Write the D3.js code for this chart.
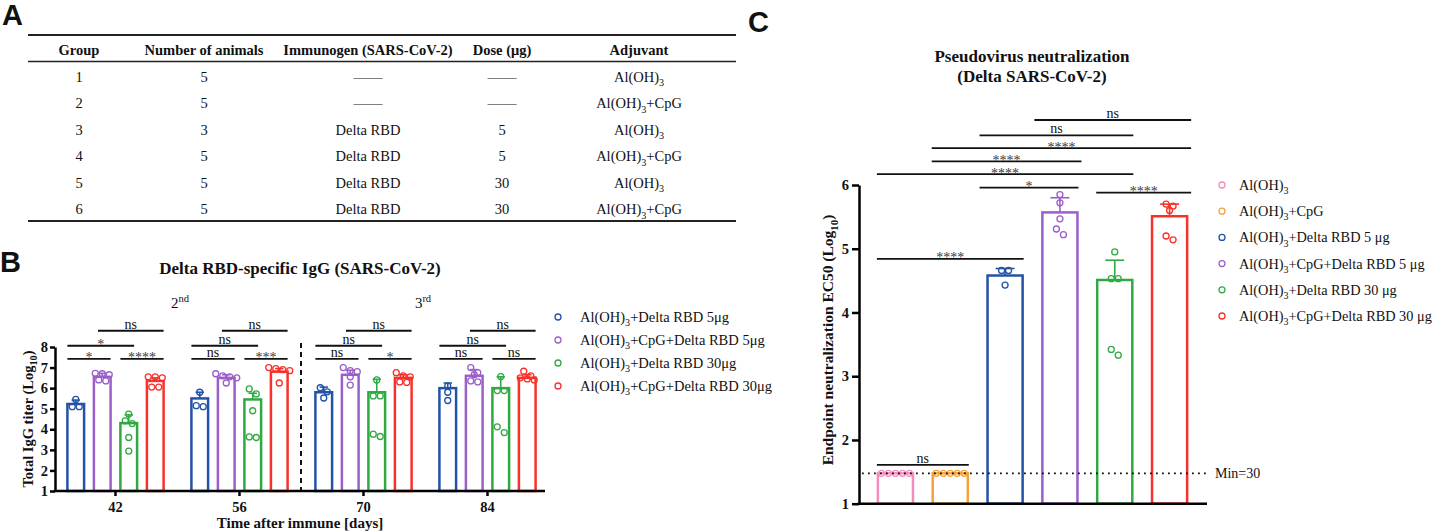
<!DOCTYPE html>
<html><head><meta charset="utf-8">
<script src="https://cdn.jsdelivr.net/npm/d3@7"></script>
<style>
body{margin:0;background:#fff}
svg{display:block}
text{font-family:"Liberation Serif","Times New Roman",serif;fill:#111}
</style>
</head><body>
<svg id="chart" width="1437" height="531"></svg>
<script>
// ---------------- DATA ----------------
// Panel A table
const tableHeaders = ["Group", "Number of animals", "Immunogen (SARS-CoV-2)", "Dose (μg)", "Adjuvant"];
const tableGroup = ["1", "2", "3", "4", "5", "6"];
const tableAnimals = ["5", "5", "3", "5", "5", "5"];
const tableImmunogen = ["——", "——", "Delta RBD", "Delta RBD", "Delta RBD", "Delta RBD"];
const tableDose = ["——", "——", "5", "5", "30", "30"];
const tableAdjuvant = ["Al(OH)_{3}", "Al(OH)_{3}+CpG", "Al(OH)_{3}", "Al(OH)_{3}+CpG", "Al(OH)_{3}", "Al(OH)_{3}+CpG"];

// Panel B
const bDays = ["42", "56", "70", "84"];
const bSeries = ["Al(OH)_{3}+Delta RBD 5μg", "Al(OH)_{3}+CpG+Delta RBD 5μg", "Al(OH)_{3}+Delta RBD 30μg", "Al(OH)_{3}+CpG+Delta RBD 30μg"];
// means per day (rows) per series (cols), log10 titer
const bMeans = [
  [5.23, 6.55, 4.30, 6.35],
  [5.50, 6.50, 5.45, 6.80],
  [5.80, 6.65, 5.80, 6.50],
  [6.00, 6.60, 6.00, 6.50]
];
const bErrors = [
  [0.19, 0.17, 0.40, 0.15],
  [0.30, 0.15, 0.30, 0.15],
  [0.25, 0.22, 0.63, 0.15],
  [0.25, 0.30, 0.55, 0.15]
];
const bPoints = [
  [[5.45, 5.10, 5.10], [6.72, 6.70, 6.65, 6.40, 6.35], [4.74, 4.41, 4.28, 3.60, 2.94], [6.55, 6.55, 6.50, 6.05, 6.05]],
  [[5.80, 5.15, 5.10], [6.70, 6.60, 6.55, 6.50, 6.25], [5.96, 5.72, 4.90, 3.63, 3.60], [7.00, 6.95, 6.90, 6.85, 6.25]],
  [[6.02, 5.82, 5.52], [7.00, 6.85, 6.80, 6.55, 6.15], [6.40, 5.62, 5.62, 3.76, 3.65], [6.75, 6.60, 6.55, 6.30, 6.28]],
  [[6.10, 5.80, 5.40], [7.00, 6.75, 6.65, 6.35, 6.30], [6.56, 5.88, 5.88, 4.12, 3.84], [6.82, 6.60, 6.50, 6.45, 6.40]]
];
// significance labels per day, comparisons: [1v2, 3v4, 1v3, 2v4]
const bSig = [
  ["*", "****", "*", "ns"],
  ["ns", "***", "ns", "ns"],
  ["ns", "*", "ns", "ns"],
  ["ns", "ns", "ns", "ns"]
];
const bDoseLabels = [["2", "nd"], ["3", "rd"]];
const bYTicks = [1, 2, 3, 4, 5, 6, 7, 8];

// Panel C
const cGroups = ["Al(OH)_{3}", "Al(OH)_{3}+CpG", "Al(OH)_{3}+Delta RBD 5 μg", "Al(OH)_{3}+CpG+Delta RBD 5 μg", "Al(OH)_{3}+Delta RBD 30 μg", "Al(OH)_{3}+CpG+Delta RBD 30 μg"];
const cMeans = [1.477, 1.477, 4.58, 5.57, 4.51, 5.51];
const cErrors = [0, 0, 0.11, 0.23, 0.31, 0.19];
const cPoints = [
  [1.477, 1.477, 1.477, 1.477, 1.477],
  [1.477, 1.477, 1.477, 1.477, 1.477],
  [4.66, 4.66, 4.43],
  [5.85, 5.72, 5.47, 5.31, 5.22],
  [4.95, 4.53, 4.53, 3.42, 3.33],
  [5.70, 5.67, 5.60, 5.20, 5.14]
];
// comparisons [i, j, label]
const cSig = [
  [0, 1, "ns"], [0, 2, "****"], [2, 3, "*"], [4, 5, "****"], [0, 4, "****"],
  [1, 3, "****"], [1, 5, "****"], [2, 4, "ns"], [3, 5, "ns"]
];
const cMin = 1.477; // log10(30)
const cYTicks = [1, 2, 3, 4, 5, 6];

// ---------------- STYLE ----------------
const bColors = ["#2353a8", "#9b5fc9", "#2faa43", "#f7312b"];
const cColors = ["#f38dbd", "#f5a23b", "#2353a8", "#9b5fc9", "#2faa43", "#f7312b"];

const svg = d3.select("#chart");

function rich(textSel, str, size) {
  const parts = str.split(/(_\{[^}]*\}|\^\{[^}]*\})/).filter(s => s.length);
  let shift = 0;
  parts.forEach(p => {
    let t = p, target = 0, fs = null;
    if (p.startsWith("_{")) { t = p.slice(2, -1); target = 0.3 * size; fs = size * 0.7; }
    else if (p.startsWith("^{")) { t = p.slice(2, -1); target = -0.4 * size; fs = size * 0.7; }
    const ts = textSel.append("tspan").attr("dy", target - shift).text(t);
    if (fs) ts.attr("font-size", fs);
    shift = target;
  });
}

function panelLetter(x, y, s) {
  svg.append("text").attr("x", x).attr("y", y).text(s)
    .style("font-family", '"Liberation Sans",Arial,sans-serif')
    .attr("font-weight", "bold").attr("font-size", 29).attr("fill", "#000");
}

function bracket(g, x1, x2, y, label) {
  g.append("line").attr("x1", x1).attr("x2", x2).attr("y1", y).attr("y2", y)
    .attr("stroke", "#111").attr("stroke-width", 1.8);
  g.append("text").attr("x", (x1 + x2) / 2).attr("y", label === "ns" ? y - 2 : y + 3.5)
    .attr("text-anchor", "middle").attr("font-size", 14)
    .style("fill", label === "ns" ? "#111" : "#3a3a3a").text(label);
}

// swarm offsets: cluster close values and spread horizontally
function swarm(vals, yScale, r, thr) {
  const idx = vals.map((v, i) => i).sort((a, b) => vals[b] - vals[a]);
  const off = new Array(vals.length).fill(0);
  let i = 0;
  while (i < idx.length) {
    const start = yScale(vals[idx[i]]);
    let j = i + 1;
    while (j < idx.length && Math.abs(yScale(vals[idx[j]]) - start) < thr) j++;
    const k = j - i;
    for (let m = 0; m < k; m++) off[idx[i + m]] = (m - (k - 1) / 2) * (2 * r + 1);
    i = j;
  }
  return off;
}

function styleAxisText(ax, size) {
  ax.selectAll(".tick text").attr("font-family", '"Liberation Serif",serif')
    .attr("font-weight", "bold").attr("font-size", size).style("fill", "#111");
}

// ---------------- PANEL A ----------------
panelLetter(2, 25, "A");
const colX = [79, 204, 368, 502, 639];
const gA = svg.append("g");
gA.append("line").attr("x1", 28).attr("x2", 736).attr("y1", 35).attr("y2", 35).attr("stroke", "#222").attr("stroke-width", 2);
gA.append("line").attr("x1", 28).attr("x2", 736).attr("y1", 61.5).attr("y2", 61.5).attr("stroke", "#222").attr("stroke-width", 1.6);
gA.append("line").attr("x1", 28).attr("x2", 736).attr("y1", 221).attr("y2", 221).attr("stroke", "#222").attr("stroke-width", 2);
tableHeaders.forEach((h, c) => {
  gA.append("text").attr("x", colX[c]).attr("y", 55).attr("text-anchor", "middle")
    .attr("font-weight", "bold").attr("font-size", 14.5).text(h);
});
const tableCols = [tableGroup, tableAnimals, tableImmunogen, tableDose, tableAdjuvant];
tableGroup.forEach((_, r) => {
  tableCols.forEach((col, c) => {
    const t = gA.append("text").attr("x", colX[c]).attr("y", 81.7 + r * 26.5)
      .attr("text-anchor", "middle").attr("font-size", 14.5);
    rich(t, col[r], 14.5);
  });
});

// ---------------- PANEL B ----------------
panelLetter(0, 272, "B");
const gB = svg.append("g");
const yB = d3.scaleLinear().domain([1, 8]).range([491, 347]);
const xB = d3.scaleBand().domain(bDays).range([53.5, 549.5]);
const xBi = d3.scaleBand().domain(d3.range(4)).range([9, 115]).paddingInner(0.37).paddingOuter(0.185);
const bw = xBi.bandwidth();

gB.append("text").attr("x", 300).attr("y", 274).attr("text-anchor", "middle")
  .attr("font-weight", "bold").attr("font-size", 17).text("Delta RBD-specific IgG (SARS-CoV-2)");

// dose labels
[180, 423].forEach((x, i) => {
  const t = gB.append("text").attr("x", x).attr("y", 308).attr("text-anchor", "middle").attr("font-size", 15);
  rich(t, bDoseLabels[i][0] + "^{" + bDoseLabels[i][1] + "}", 15);
});

// divider
gB.append("line").attr("x1", 301).attr("x2", 301).attr("y1", 343).attr("y2", 491)
  .attr("stroke", "#111").attr("stroke-width", 2).attr("stroke-dasharray", "5,4");

bDays.forEach((day, d) => {
  bSeries.forEach((s, k) => {
    const x0 = xB(day) + xBi(k);
    const cx = x0 + bw / 2;
    const m = bMeans[d][k];
    gB.append("rect").attr("x", x0).attr("y", yB(m)).attr("width", bw).attr("height", yB(1) - yB(m))
      .attr("fill", "none").attr("stroke", bColors[k]).attr("stroke-width", 2.5);
    const e = bErrors[d][k];
    gB.append("line").attr("x1", cx).attr("x2", cx).attr("y1", yB(m)).attr("y2", yB(m + e))
      .attr("stroke", bColors[k]).attr("stroke-width", 1.6);
    gB.append("line").attr("x1", cx - bw * 0.25).attr("x2", cx + bw * 0.25).attr("y1", yB(m + e)).attr("y2", yB(m + e))
      .attr("stroke", bColors[k]).attr("stroke-width", 1.6);
    const pts = bPoints[d][k];
    const off = swarm(pts, yB, 3, 6);
    pts.forEach((v, i) => {
      gB.append("circle").attr("cx", cx + off[i]).attr("cy", yB(v)).attr("r", 3)
        .attr("fill", "none").attr("stroke", bColors[k]).attr("stroke-width", 1.3);
    });
  });
  // brackets
  const L = k => xB(day) + xBi(k), R = k => xB(day) + xBi(k) + bw;
  const pairs = [[0, 1, 7.42], [2, 3, 7.42], [0, 2, 8.06], [1, 3, 8.79]];
  pairs.forEach((p, q) => {
    const x1 = q === 3 ? L(p[0]) + 4 : L(p[0]);
    const x2 = q === 2 ? R(p[1]) - 3 : R(p[1]);
    bracket(gB, x1, x2, yB(p[2]), bSig[d][q]);
  });
});

// axes B
const yAxB = gB.append("g").attr("transform", "translate(55,0)")
  .call(d3.axisLeft(yB).tickValues(bYTicks).tickFormat(d3.format("d")).tickSize(5).tickSizeOuter(0).tickPadding(2));
yAxB.select(".domain").attr("stroke", "#000").attr("stroke-width", 2.5);
yAxB.selectAll(".tick line").attr("stroke", "#000").attr("stroke-width", 2.5);
styleAxisText(yAxB, 14.5);

const xAxB = gB.append("g").attr("transform", "translate(0,491)")
  .call(d3.axisBottom(xB).tickSize(5).tickSizeOuter(0).tickPadding(6));
xAxB.select(".domain").remove();
xAxB.selectAll(".tick line").attr("stroke", "#000").attr("stroke-width", 2.5);
styleAxisText(xAxB, 14.5);
gB.append("line").attr("x1", 53.8).attr("x2", 545).attr("y1", 491).attr("y2", 491).attr("stroke", "#000").attr("stroke-width", 2.5);

gB.append("text").attr("x", 300).attr("y", 528).attr("text-anchor", "middle")
  .attr("font-weight", "bold").attr("font-size", 15).text("Time after immune [days]");
const ylB = gB.append("text").attr("transform", "translate(33,419) rotate(-90)").attr("text-anchor", "middle")
  .attr("font-weight", "bold").attr("font-size", 14.5);
rich(ylB, "Total IgG titer (Log_{10})", 14.5);

// legend B
bSeries.forEach((s, k) => {
  const y = 317 + k * 23;
  gB.append("circle").attr("cx", 558).attr("cy", y).attr("r", 3).attr("fill", "none")
    .attr("stroke", bColors[k]).attr("stroke-width", 1.3);
  const t = gB.append("text").attr("x", 580).attr("y", y + 5).attr("font-size", 14.5);
  rich(t, s, 14.5);
});

// ---------------- PANEL C ----------------
panelLetter(748, 32, "C");
const gC = svg.append("g");
const yC = d3.scaleLinear().domain([1, 6]).range([503.7, 185]);
const xC = d3.scaleBand().domain(d3.range(6)).range([868, 1197]).paddingInner(0.36).paddingOuter(0.18);
const cw = xC.bandwidth();

gC.append("text").attr("x", 1032).attr("y", 62).attr("text-anchor", "middle")
  .attr("font-weight", "bold").attr("font-size", 17).text("Pseudovirus neutralization");
gC.append("text").attr("x", 1032).attr("y", 82).attr("text-anchor", "middle")
  .attr("font-weight", "bold").attr("font-size", 17).text("(Delta SARS-CoV-2)");

cGroups.forEach((g, k) => {
  const x0 = xC(k), cx = x0 + cw / 2, m = cMeans[k];
  gC.append("rect").attr("x", x0).attr("y", yC(m)).attr("width", cw).attr("height", yC(1) - yC(m))
    .attr("fill", "none").attr("stroke", cColors[k]).attr("stroke-width", 2.5);
  const e = cErrors[k];
  if (e > 0) {
    gC.append("line").attr("x1", cx).attr("x2", cx).attr("y1", yC(m)).attr("y2", yC(m + e))
      .attr("stroke", cColors[k]).attr("stroke-width", 1.6);
    gC.append("line").attr("x1", cx - cw * 0.27).attr("x2", cx + cw * 0.27).attr("y1", yC(m + e)).attr("y2", yC(m + e))
      .attr("stroke", cColors[k]).attr("stroke-width", 1.6);
  }
  const pts = cPoints[k];
  const off = swarm(pts, yC, 3, 6);
  pts.forEach((v, i) => {
    gC.append("circle").attr("cx", cx + off[i]).attr("cy", yC(v)).attr("r", 3)
      .attr("fill", "none").attr("stroke", cColors[k]).attr("stroke-width", 1.3);
  });
});

// min line
gC.append("line").attr("x1", 862).attr("x2", 1208).attr("y1", yC(cMin)).attr("y2", yC(cMin))
  .attr("stroke", "#111").attr("stroke-width", 1.8).attr("stroke-dasharray", "1.8,4.2");
gC.append("text").attr("x", 1215).attr("y", yC(cMin) + 5).attr("font-size", 14).text("Min=30");

// brackets C
const cSigLevels = [1.61, 4.84, 5.96, 5.88, 6.17, 6.37, 6.58, 6.78, 7.02];
cSig.forEach((s, q) => {
  const [i, j, lab] = s;
  const ext = (i >= 2 && q >= 2 && q !== 3) ? 8 : 1;
  const x1 = xC(i) - ext;
  const x2 = xC(j) + cw + (j === 5 || q === 5 ? 4 : 1);
  bracket(gC, x1, x2, yC(cSigLevels[q]), lab);
});

// axes C
const yAxC = gC.append("g").attr("transform", "translate(859,0)")
  .call(d3.axisLeft(yC).tickValues(cYTicks).tickSize(7).tickSizeOuter(0).tickPadding(3).tickFormat(d3.format("d")));
yAxC.select(".domain").attr("stroke", "#000").attr("stroke-width", 2.5);
yAxC.selectAll(".tick line").attr("stroke", "#000").attr("stroke-width", 2.5);
styleAxisText(yAxC, 14.5);
gC.append("line").attr("x1", 857.8).attr("x2", 1207).attr("y1", yC(1)).attr("y2", yC(1)).attr("stroke", "#000").attr("stroke-width", 2.5);

const ylC = gC.append("text").attr("transform", "translate(833,340) rotate(-90)").attr("text-anchor", "middle")
  .attr("font-weight", "bold").attr("font-size", 15.5);
rich(ylC, "Endpoint neutralization EC50 (Log_{10})", 15.5);

// legend C
cGroups.forEach((s, k) => {
  const y = 185 + k * 26.2;
  gC.append("circle").attr("cx", 1222).attr("cy", y).attr("r", 3).attr("fill", "none")
    .attr("stroke", cColors[k]).attr("stroke-width", 1.3);
  const t = gC.append("text").attr("x", 1239).attr("y", y + 5).attr("font-size", 14.3);
  rich(t, s, 14.3);
});
</script>
</body></html>
